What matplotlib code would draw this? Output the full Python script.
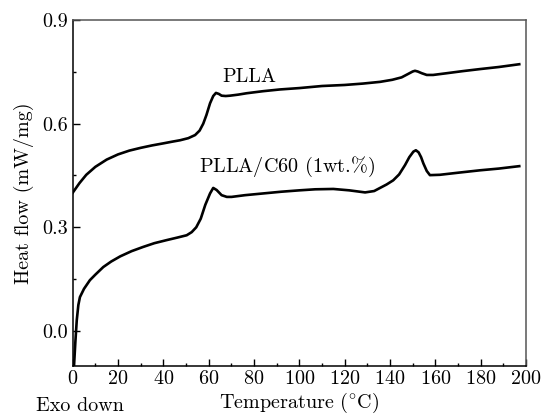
import matplotlib
matplotlib.use("Agg")
import matplotlib.pyplot as plt
from matplotlib.ticker import MultipleLocator

plt.rcParams['font.family'] = 'serif'
plt.rcParams['font.serif'] = ['cmr10']
plt.rcParams['mathtext.fontset'] = 'cm'
plt.rcParams['axes.formatter.use_mathtext'] = True

# DSC curves
temp_plla = [0, 3, 6, 10, 15, 20, 25, 30, 35, 40, 44, 47.4, 51, 54, 56, 57.6, 59, 60.6, 62,
             63.2, 64.5, 65.7, 67.5, 69.4, 73, 76.7, 84, 91.4, 100, 110, 120, 128, 135.6,
             141, 145.1, 148, 150, 151, 152.2, 154, 156.2, 159, 165, 172, 179.7, 188, 197]
flow_plla = [0.400, 0.428, 0.452, 0.475, 0.496, 0.511, 0.522, 0.530, 0.537, 0.543, 0.548,
             0.552, 0.558, 0.567, 0.580, 0.600, 0.625, 0.659, 0.680, 0.689, 0.686, 0.681,
             0.680, 0.681, 0.684, 0.688, 0.694, 0.699, 0.703, 0.709, 0.712, 0.716, 0.721,
             0.727, 0.734, 0.744, 0.751, 0.753, 0.751, 0.746, 0.741, 0.741, 0.746, 0.752,
             0.758, 0.764, 0.772]

temp_c60 = [0.6, 1.2, 1.8, 2.5, 3.2, 5, 7.6, 10, 13.5, 17, 21, 26, 31, 36, 41.5, 46, 50.3,
            52.5, 54.5, 56.5, 58.5, 60.6, 62, 63.5, 65.7, 68, 70.1, 76, 84, 92, 100, 107,
            115, 122, 129, 133, 135.6, 138.5, 141.4, 144, 146.6, 148.5, 150.3, 151.4, 152.6,
            153.7, 154.7, 156.2, 157.6, 162, 170, 179.7, 188, 197]
flow_c60 = [-0.10, -0.03, 0.031, 0.075, 0.098, 0.122, 0.147, 0.163, 0.185, 0.201, 0.216,
            0.231, 0.243, 0.254, 0.263, 0.270, 0.277, 0.286, 0.300, 0.325, 0.365, 0.398,
            0.414, 0.408, 0.393, 0.388, 0.388, 0.393, 0.398, 0.403, 0.407, 0.410, 0.411,
            0.407, 0.401, 0.405, 0.414, 0.424, 0.436, 0.453, 0.480, 0.503, 0.519, 0.523,
            0.517, 0.503, 0.485, 0.463, 0.451, 0.452, 0.458, 0.465, 0.470, 0.477]

fig = plt.figure(figsize=(5.44, 4.17), dpi=100)
ax = fig.add_axes([0.1336, 0.1235, 0.8334, 0.8285])

ax.plot(temp_plla, flow_plla, color='black', lw=1.9)
ax.plot(temp_c60, flow_c60, color='black', lw=1.9)

ax.text(66, 0.722, 'PLLA', fontsize=14.5)
ax.text(55.7, 0.459, r'PLLA/C60 (1wt.$\%$)', fontsize=14.5)

ax.set_xlim(0, 200)
ax.set_ylim(-0.1, 0.9)
ax.xaxis.set_major_locator(MultipleLocator(20))
ax.xaxis.set_minor_locator(MultipleLocator(10))
ax.yaxis.set_major_locator(MultipleLocator(0.3))
ax.yaxis.set_minor_locator(MultipleLocator(0.15))
ax.tick_params(which='both', direction='in', top=False, right=False, labelsize=14.5)
ax.tick_params(which='major', length=5, width=1)
ax.tick_params(which='minor', length=2.5, width=1)
ax.yaxis.set_major_formatter(plt.FuncFormatter(lambda v, p: f'{v:.1f}'))

for s in ['top', 'right']:
    ax.spines[s].set_color('#555555')
for s in ax.spines.values():
    s.set_linewidth(1.1)

ax.set_ylabel(r'Heat flow (mW/mg)', fontsize=14.5, labelpad=6)
ax.set_xlabel(r'Temperature ($^{\circ}$C)', fontsize=14.5, labelpad=2)
fig.text(36 / 544, 1 - 406 / 417, 'Exo down', fontsize=14.5, va='center', ha='left')

fig.savefig('out.png', dpi=100)
